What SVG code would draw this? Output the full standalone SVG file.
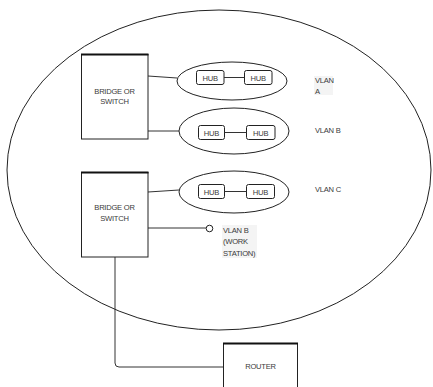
<svg xmlns="http://www.w3.org/2000/svg" width="433" height="387" viewBox="0 0 433 387">
<style>
.s{fill:#fff;stroke:#222;stroke-width:1}
.c{fill:none;stroke:#333;stroke-width:1}
.t{font-family:"Liberation Sans",Arial,sans-serif;font-size:7.6px;fill:#3a3a3a;letter-spacing:-0.25px}
.m{text-anchor:middle}
.hl{fill:#f4f4f4}
</style>
<rect width="433" height="387" fill="#fff"/>
<g id="vlan-domain"><ellipse cx="219" cy="170" rx="212" ry="160" fill="none" stroke="#222" stroke-width="1"/></g>
<g id="connectors">
<path class="c" d="M148 76 L177 78"/>
<path class="c" d="M148 131 L179 131"/>
<path class="c" d="M148 192 L179 190"/>
<path class="c" d="M148 228 L206 228"/>
<path class="c" d="M115 257 L115 363 Q115 367 119 367 L223 367"/>
</g>
<g id="bridge1">
<rect class="s" x="81.5" y="54.5" width="66.5" height="84.5"/>
<line x1="81" y1="54.5" x2="148.5" y2="54.5" stroke="#111" stroke-width="2"/>
<text class="t m" x="114.5" y="93.5">BRIDGE OR</text>
<text class="t m" x="114.5" y="103.5">SWITCH</text>
</g>
<g id="bridge2">
<rect class="s" x="81.5" y="172.5" width="66.5" height="84.5"/>
<line x1="81" y1="172.5" x2="148.5" y2="172.5" stroke="#111" stroke-width="2"/>
<text class="t m" x="114.5" y="209.5">BRIDGE OR</text>
<text class="t m" x="114.5" y="220.5">SWITCH</text>
</g>
<g id="vlanA">
<ellipse class="s" cx="232" cy="81" rx="55" ry="19"/>
<rect class="s" x="196.5" y="70.5" width="27.5" height="14" rx="2"/>
<rect class="s" x="244.5" y="70.5" width="27.5" height="14" rx="2"/>
<line class="c" x1="224" y1="77.5" x2="244.5" y2="77.5"/>
<text class="t m" x="210.25" y="80.5">HUB</text>
<text class="t m" x="258.25" y="80.5">HUB</text>
</g>
<g id="vlanB">
<ellipse class="s" cx="234" cy="131" rx="55" ry="23"/>
<rect class="s" x="198.5" y="125.5" width="26" height="14" rx="2"/>
<rect class="s" x="246.5" y="125.5" width="28.5" height="14" rx="2"/>
<line class="c" x1="224.5" y1="132.5" x2="246.5" y2="132.5"/>
<text class="t m" x="211.5" y="135.5">HUB</text>
<text class="t m" x="260.75" y="135.5">HUB</text>
</g>
<g id="vlanC">
<ellipse class="s" cx="234" cy="192" rx="55" ry="21"/>
<rect class="s" x="198.5" y="184.5" width="26" height="14" rx="2"/>
<rect class="s" x="246.5" y="184.5" width="28" height="14" rx="2"/>
<line class="c" x1="224.5" y1="191.5" x2="246.5" y2="191.5"/>
<text class="t m" x="211.5" y="194.5">HUB</text>
<text class="t m" x="260.5" y="194.5">HUB</text>
</g>
<g id="label-vlanA">
<rect class="hl" x="314" y="76" width="19" height="19"/>
<text class="t" x="315" y="82.5">VLAN</text>
<text class="t" x="315" y="93.5">A</text>
</g>
<g id="label-vlanB"><text class="t" x="315" y="133">VLAN B</text></g>
<g id="label-vlanC"><text class="t" x="315" y="191.5">VLAN C</text></g>
<g id="workstation">
<circle cx="209.5" cy="228.5" r="3.3" fill="#fff" stroke="#222" stroke-width="1"/>
<rect class="hl" x="222" y="225" width="35" height="33"/>
<text class="t" x="223" y="232.5">VLAN B</text>
<text class="t" x="223" y="244">(WORK</text>
<text class="t" x="223" y="255.5">STATION)</text>
</g>
<g id="router">
<rect class="s" x="223.5" y="343.5" width="74" height="50"/>
<line x1="223" y1="343.5" x2="298" y2="343.5" stroke="#111" stroke-width="2"/>
<text class="t m" x="260.5" y="368.5">ROUTER</text>
</g>
</svg>
